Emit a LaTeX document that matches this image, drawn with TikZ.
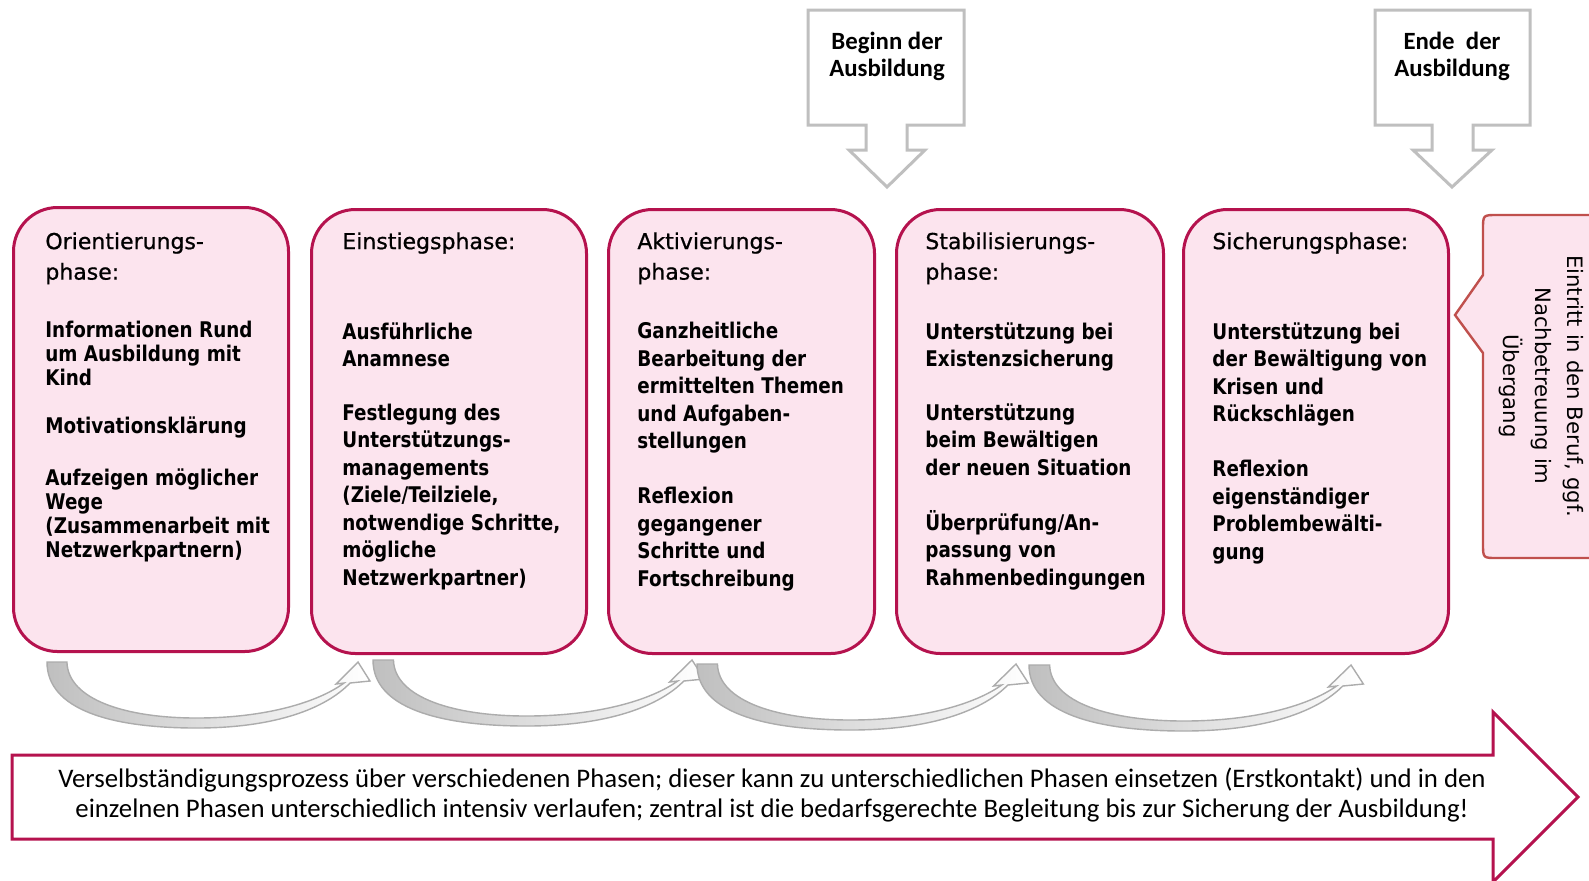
\documentclass[tikz,border=0pt]{standalone}
\usepackage{fontspec}
\newfontfamily\titlefont{DejaVu Sans}
\newfontfamily\headfont{DejaVu Sans}[FakeBold=0.8]
\newfontfamily\bodyfont{DejaVu Sans}[FakeStretch=0.85]
\newfontfamily\arrowfont{Carlito}
\definecolor{phaseline}{RGB}{181,18,78}
\definecolor{phasefill}{RGB}{252,228,238}
\definecolor{calloutline}{RGB}{192,80,77}
\definecolor{markline}{RGB}{191,191,191}

\begin{document}
\begin{tikzpicture}[
    x=0.5pt, y=-0.5pt,
    phase/.style={draw=phaseline, fill=phasefill, line width=1.5pt, rounded corners=22pt,
      anchor=north west, inner sep=0pt, minimum height=222pt},
    phasetitle/.style={anchor=north west, align=left, inner sep=0pt,
      font=\headfont\fontsize{11}{15.25}\selectfont},
    phasetext/.style={anchor=north west, align=left, inner sep=0pt,
      font=\bodyfont\bfseries\fontsize{10.8}{13.75}\selectfont},
    loop arrow/.style={left color=gray!50, middle color=gray!40, right color=white, draw=gray!65, line width=0.7pt},
    marker/.style={draw=markline, line width=1.5pt, fill=white},
]
\path[use as bounding box, fill=white] (0,0) rectangle (1589,880);

% markers on top
\draw[marker, shift={(887,0)}] (-79,10) -- (77,10) -- (77,125) -- (20,125) -- (20,150) -- (38,150)
  -- (0,187) -- (-38,150) -- (-21,150) -- (-21,125) -- (-79,125) -- cycle;
\node[font=\arrowfont\bfseries\fontsize{12.4}{13.5}\selectfont, align=center] (beginn) at (887,56) {Beginn der\\Ausbildung};
\draw[marker, shift={(1452,0)}] (-77,10) -- (78,10) -- (78,125) -- (21,125) -- (21,150) -- (40,150)
  -- (0,187) -- (-39,150) -- (-20,150) -- (-20,125) -- (-77,125) -- cycle;
\node[font=\arrowfont\bfseries\fontsize{12.4}{13.5}\selectfont, align=center] (ende) at (1452,56) {Ende~~der\\Ausbildung};

% phases
\node[phase, minimum width=137.5pt] (orient) at (12,206) {};
\node[phase, minimum width=137.5pt] (einstieg) at (310,208) {};
\node[phase, minimum width=133pt] (aktiv) at (607,208) {};
\node[phase, minimum width=133.5pt] (stabil) at (895,208) {};
\node[phase, minimum width=132.5pt] (sicher) at (1182,208) {};

\node[phasetitle] (orient-t) at (45,232) {Orientierungs-\\phase:};
\node[phasetext, font=\bodyfont\bfseries\fontsize{10.8}{12}\selectfont] (orient-b) at (45,321)
  {Informationen Rund\\um Ausbildung mit\\Kind\\[12pt]Motivationsklärung\\[14pt]Aufzeigen möglicher\\Wege\\(Zusammenarbeit mit\\Netzwerkpartnern)};
\node[phasetitle] (einstieg-t) at (342,232) {Einstiegsphase:};
\node[phasetext] (einstieg-b) at (342,322)
  {Ausführliche\\Anamnese\\[13pt]Festlegung des\\Unterstützungs-\\managements\\(Ziele/Teilziele,\\notwendige Schritte,\\mögliche\\Netzwerkpartner)};
\node[phasetitle] (aktiv-t) at (637,232) {Aktivierungs-\\phase:};
\node[phasetext] (aktiv-b) at (637,322)
  {Ganzheitliche\\Bearbeitung der\\ermittelten Themen\\und Aufgaben-\\stellungen\\[13.75pt]Reflexion\\gegangener\\Schritte und\\Fortschreibung};
\node[phasetitle] (stabil-t) at (925,232) {Stabilisierungs-\\phase:};
\node[phasetext] (stabil-b) at (925,322)
  {Unterstützung bei\\Existenzsicherung\\[13pt]Unterstützung\\beim Bewältigen\\der neuen Situation\\[13.75pt]Überprüfung/An-\\passung von\\Rahmenbedingungen};
\node[phasetitle] (sicher-t) at (1212,232) {Sicherungsphase:};
\node[phasetext] (sicher-b) at (1212,322)
  {Unterstützung bei\\der Bewältigung von\\Krisen und\\Rückschlägen\\[13.75pt]Reflexion\\eigenständiger\\Problembewälti-\\gung};

% after the last phase
\draw[line width=1.2pt, draw=calloutline, fill=phasefill] (1600,215) -- (1497,215) .. controls (1483,215) .. (1483,229)
  -- (1483,275) -- (1455,315) -- (1483,353) -- (1483,544) .. controls (1483,558) .. (1497,558) -- (1600,558);
\node[rotate=-90, align=center, font=\titlefont\fontsize{10.6}{16}\selectfont] (eintritt) at (1541,386)
  {Eintritt in den Beruf, ggf.\\Nachbetreuung im\\Übergang};

% loops between phases
\foreach \sx/\sy/\sp in {47/662/311, 373/660/319, 697/664/319, 1029/665/322} {
  \begin{scope}[shift={(\sx,\sy)}, xscale=\sp/312]
    \path[loop arrow] (0,0) -- (20,0) .. controls (21,38) and (80,56) .. (150,56)
      .. controls (220,56) and (272,40) .. (298,21) -- (290,22) -- (312,0) -- (324,19) -- (304,21)
      .. controls (280,46) and (230,66) .. (150,66) .. controls (65,66) and (0,48) .. (0,0) -- cycle;
  \end{scope}
}

% process arrow
\draw[line width=1.5pt, draw=phaseline, fill=white] (12,755) -- (1493,755) -- (1493,712) -- (1578,797)
  -- (1493,882) -- (1493,839) -- (12,839) -- cycle;
\node[font=\arrowfont\fontsize{13.4}{15}\selectfont, align=center] (prozess) at (772,795)
  {Verselbständigungsprozess über verschiedenen Phasen; dieser kann zu unterschiedlichen Phasen einsetzen (Erstkontakt) und in den\\
   einzelnen Phasen unterschiedlich intensiv verlaufen; zentral ist die bedarfsgerechte Begleitung bis zur Sicherung der Ausbildung!};
\end{tikzpicture}
\end{document}
